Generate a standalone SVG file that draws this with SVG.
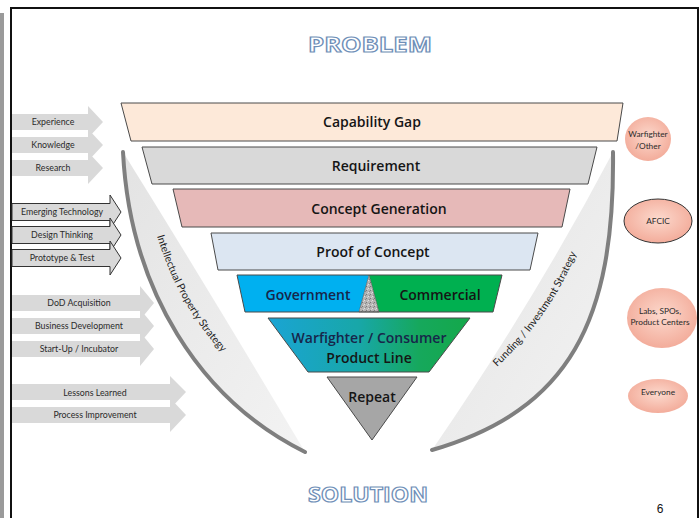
<svg xmlns="http://www.w3.org/2000/svg" width="700" height="518" viewBox="0 0 700 518">
<defs>
<style>
.fun{stroke:#4a4a4a;stroke-width:1}
.ft{font-family:"Open Sans","DejaVu Sans",sans-serif;font-size:14px;font-weight:600;fill:#151515;text-anchor:middle}
.arr{fill:#d9d9d9}
.arro{fill:#d9d9d9;stroke:#333;stroke-width:1}
.at{font-family:Lato,"Open Sans",sans-serif;font-size:8.8px;fill:#2a2a2a;text-anchor:middle}
.ct{font-family:Lato,"Open Sans",sans-serif;font-size:8.3px;fill:#2a2a2a;text-anchor:middle}
.title{font-family:"Open Sans","DejaVu Sans",sans-serif;font-weight:bold;font-size:21px;fill:#fff;stroke:#6f8fb8;stroke-width:1.2;text-anchor:middle}
.band{fill:url(#bandg)}
.bandline{fill:none;stroke:#7f7f7f;stroke-width:4;stroke-linecap:round}
.bt{font-family:Lato,"Open Sans",sans-serif;font-size:10.5px;fill:#1e1e1e}
.circ{fill:url(#cg)}
</style>
<linearGradient id="bandg" x1="0" y1="0" x2="1" y2="1">
<stop offset="0" stop-color="#e3e3e3"/>
<stop offset="1" stop-color="#f3f3f3"/>
</linearGradient>
<radialGradient id="cg" cx="0.5" cy="0.45" r="0.6">
<stop offset="0" stop-color="#fcd9cd"/>
<stop offset="1" stop-color="#f2a896"/>
</radialGradient>
<linearGradient id="wg" x1="268" y1="0" x2="470" y2="0" gradientUnits="userSpaceOnUse">
<stop offset="0" stop-color="#1aa4d4"/>
<stop offset="0.45" stop-color="#18a7a8"/>
<stop offset="0.75" stop-color="#16a85c"/>
<stop offset="1" stop-color="#14a84a"/>
</linearGradient>
<pattern id="stip" width="4" height="4" patternUnits="userSpaceOnUse">
<rect width="4" height="4" fill="#b4b4b4"/>
<rect x="0" y="0" width="1" height="1" fill="#e0e0e0"/>
<rect x="2" y="2" width="1" height="1" fill="#7a7a7a"/>
<rect x="3" y="1" width="1" height="1" fill="#d0d0d0"/>
<rect x="1" y="3" width="1" height="1" fill="#8a8a8a"/>
</pattern>
<path id="lp" d="M157,236 Q182,318 240,370"/>
<path id="rp" d="M497,367 Q553,315 580,244"/>
</defs>

<rect width="700" height="518" fill="#fff"/>
<rect x="0" y="13" width="4" height="510" fill="#9a9a9a"/>
<rect x="11" y="8" width="687" height="530" fill="none" stroke="#111" stroke-width="2"/>

<g id="titles">
<text class="title" x="370" y="52" textLength="124" lengthAdjust="spacingAndGlyphs">PROBLEM</text>
<text class="title" x="368" y="502" textLength="120" lengthAdjust="spacingAndGlyphs">SOLUTION</text>
<text x="660" y="513" font-family="Liberation Sans,Arial,sans-serif" font-size="12" fill="#111" text-anchor="middle">6</text>
</g>

<g id="ip-strategy">
<path class="band" d="M123,152 C130,290 200,400 305,452 Q215,300 123,152 Z"/>
<path class="bandline" d="M123,152 C130,290 200,400 305,452"/>
<text class="bt"><textPath href="#lp">Intellectual  Property  Strategy</textPath></text>
</g>
<g id="funding-strategy">
<path class="band" d="M613,152 C615,320 570,410 432,450 Q535,300 613,152 Z"/>
<path class="bandline" d="M613,152 C615,320 570,410 432,450"/>
<text class="bt"><textPath href="#rp">Funding / Investment  Strategy</textPath></text>
</g>

<g id="arrows-1">
<path class="arr" d="M12,114 H88 V106 L103,122 L88,138 V130 H12 Z"/>
<path class="arr" d="M12,137 H88 V129 L103,145 L88,161 V153 H12 Z"/>
<path class="arr" d="M12,160 H88 V152 L103,168 L88,184 V176 H12 Z"/>
<text class="at" x="53" y="125">Experience</text>
<text class="at" x="53" y="148">Knowledge</text>
<text class="at" x="53" y="171">Research</text>
</g>
<g id="arrows-2">
<path class="arro" d="M12,203.5 H110 V195 L121,212 L110,229 V220.5 H12 Z"/>
<path class="arro" d="M12,226.5 H110 V218 L121,235 L110,252 V243.5 H12 Z"/>
<path class="arro" d="M12,249.5 H110 V241 L121,258 L110,275 V266.5 H12 Z"/>
<text class="at" x="62" y="215" font-size="9">Emerging  Technology</text>
<text class="at" x="62" y="238" font-size="9">Design  Thinking</text>
<text class="at" x="62" y="261" font-size="9">Prototype  &amp;  Test</text>
</g>
<g id="arrows-3">
<path class="arr" d="M12,295 H140 V286 L154,303 L140,320 V311 H12 Z"/>
<path class="arr" d="M12,318 H140 V309 L154,326 L140,343 V334 H12 Z"/>
<path class="arr" d="M12,341 H140 V332 L154,349 L140,366 V357 H12 Z"/>
<text class="at" x="79" y="306">DoD Acquisition</text>
<text class="at" x="79" y="329">Business  Development</text>
<text class="at" x="79" y="352">Start-Up  / Incubator</text>
</g>
<g id="arrows-4">
<path class="arr" d="M12,384 H170 V376 L186,392 L170,409 V400 H12 Z"/>
<path class="arr" d="M12,407 H170 V398 L186,415 L170,432 V423 H12 Z"/>
<text class="at" x="95" y="396">Lessons Learned</text>
<text class="at" x="95" y="418">Process Improvement</text>
</g>

<g id="capability-gap">
<polygon class="fun" fill="#fde9d9" points="121,103 623,103 617,141 131,141"/>
<text class="ft" x="372" y="127">Capability Gap</text>
</g>
<g id="requirement">
<polygon class="fun" fill="#d9d9d9" points="142,147 597,147 588,184 152,184"/>
<text class="ft" x="376" y="171">Requirement</text>
</g>
<g id="concept-generation">
<polygon class="fun" fill="#e6b9b8" points="173,189 570,189 562,227 182,227"/>
<text class="ft" x="379" y="214">Concept Generation</text>
</g>
<g id="proof-of-concept">
<polygon class="fun" fill="#dce6f2" points="211,233 538,233 530,270 218,270"/>
<text class="ft" x="373" y="257">Proof of Concept</text>
</g>
<g id="gov-commercial">
<polygon fill="#00b0f0" points="237,275 369,275 359,312 245,312"/>
<polygon fill="#00b050" points="369,275 502,275 493,312 379,312"/>
<polygon fill="url(#stip)" stroke="#555" stroke-width="0.6" points="369,275 379,312 359,312"/>
<polygon class="fun" fill="none" points="237,275 502,275 493,312 245,312"/>
<text class="ft" x="308" y="300" style="fill:#17264a">Government</text>
<text class="ft" x="440" y="300">Commercial</text>
</g>
<g id="product-line">
<polygon class="fun" fill="url(#wg)" points="268,318 470,318 429,372 308,372"/>
<text class="ft" x="369" y="343" style="fill:#17264a">Warfighter / Consumer</text>
<text class="ft" x="369" y="363">Product Line</text>
</g>
<g id="repeat">
<polygon class="fun" fill="#a6a6a6" points="327,377 417,377 372,440"/>
<text class="ft" x="372" y="402">Repeat</text>
</g>

<g id="warfighter-other">
<ellipse class="circ" cx="648" cy="139" rx="23" ry="22"/>
<text class="ct" x="648" y="137">Warfighter</text>
<text class="ct" x="648" y="149">/Other</text>
</g>
<g id="afcic">
<ellipse class="circ" cx="658" cy="221" rx="34" ry="22" stroke="#333" stroke-width="1"/>
<text class="ct" x="658" y="224">AFCIC</text>
</g>
<g id="labs">
<ellipse class="circ" cx="662" cy="318" rx="35" ry="30"/>
<text class="ct" x="660" y="314">Labs, SPOs,</text>
<text class="ct" x="660" y="325">Product Centers</text>
</g>
<g id="everyone">
<ellipse class="circ" cx="658" cy="396" rx="30" ry="17"/>
<text class="ct" x="658" y="395">Everyone</text>
</g>
</svg>
